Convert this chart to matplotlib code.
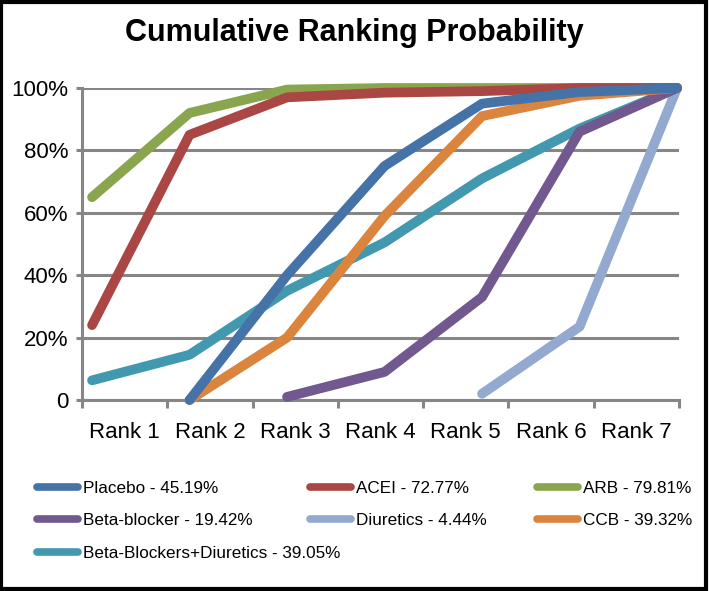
import numpy as np
import matplotlib
matplotlib.use("Agg")
import matplotlib.pyplot as plt
from matplotlib.patches import Rectangle

plt.rcParams['font.family'] = ['Liberation Sans', 'DejaVu Sans']

ranks = ["Rank 1", "Rank 2", "Rank 3", "Rank 4", "Rank 5", "Rank 6", "Rank 7"]
nan = np.nan

# cumulative probability (%) per rank
placebo = [nan, 0, 40, 75, 95, 98.7, 100]
acei = [24, 85, 97, 98.5, 99, 100, 100]
arb = [65, 92, 99.5, 100, 100, 100, 100]
beta_blocker = [nan, nan, 1, 9, 33, 86, 100]
diuretics = [nan, nan, nan, nan, 2, 23.5, 100]
ccb = [nan, 0, 20, 59, 91, 97.5, 100]
bb_diuretics = [6.3, 14.5, 35, 50.5, 71, 87, 100]

names = ["Placebo - 45.19%", "ACEI - 72.77%", "ARB - 79.81%",
         "Beta-blocker - 19.42%", "Diuretics - 4.44%", "CCB - 39.32%",
         "Beta-Blockers+Diuretics - 39.05%"]
series = [placebo, acei, arb, beta_blocker, diuretics, ccb, bb_diuretics]
colors = ["#4572A7", "#AA4643", "#89A54E", "#71588F", "#93A9CF", "#DB843D", "#4198AF"]

fig = plt.figure(figsize=(7.09, 5.91), dpi=100)
ax = fig.add_axes([82 / 709, 1 - 400 / 591, (679 - 82) / 709, (400 - 88) / 591])

x = np.arange(len(ranks))
# draw order: back to front like the original
order = [6, 4, 3, 5, 2, 1, 0]
lines = {}
for i in order:
    ln, = ax.plot(x, series[i], color=colors[i], lw=7, solid_capstyle='round',
                  solid_joinstyle='round', clip_on=False, zorder=3 + order.index(i))
    lines[i] = ln

left, right = -0.103, 6.02
ax.set_xlim(left, right)
ax.set_ylim(0, 100)

edges = np.linspace(left, right, 8)
ax.set_xticks(edges)
ax.set_xticklabels([])
ax.set_xticks((edges[:-1] + edges[1:]) / 2, minor=True)
ax.set_xticklabels(ranks, minor=True, fontsize=16)
ax.tick_params(axis='x', which='major', direction='out', length=6, width=2.2, color='#868686')
ax.tick_params(axis='x', which='minor', length=0, pad=16)

ax.set_yticks([0, 20, 40, 60, 80, 100])
ax.set_yticklabels(["0", "20%", "40%", "60%", "80%", "100%"], fontsize=16)
ax.tick_params(axis='y', direction='out', length=4, width=2.2, color='#868686', pad=6)
ax.yaxis.grid(True, color='#868686', lw=2.2)
ax.set_axisbelow(True)

for s in ['top', 'right']:
    ax.spines[s].set_visible(False)
for s in ['left', 'bottom']:
    ax.spines[s].set_color('#868686')
    ax.spines[s].set_linewidth(2.2)

fig.text(0.5, 1 - 33 / 591, "Cumulative Ranking Probability", ha='center', va='center',
         fontsize=22, fontweight='bold')

# legend: three columns placed by hand, rows filled left to right
columns = [([0, 3, 6], 37), ([1, 4], 310), ([2, 5], 537)]
for idx, xpix in columns:
    leg = fig.legend([lines[i] for i in idx], [names[i] for i in idx], loc='upper left',
                     bbox_to_anchor=(xpix / 709, 1 - 481 / 591), frameon=False,
                     fontsize=12.3, handlelength=2.4, handletextpad=0.3, labelspacing=1.02,
                     borderpad=0, borderaxespad=0)
    for h in leg.legend_handles:
        h.set_linewidth(5.5)
        h.set_solid_capstyle('round')

fig.patches.append(Rectangle((0.002, 0.003), 0.994, 0.994, transform=fig.transFigure,
                             fill=False, ec='black', lw=3))

fig.savefig("out.png", dpi=100)
